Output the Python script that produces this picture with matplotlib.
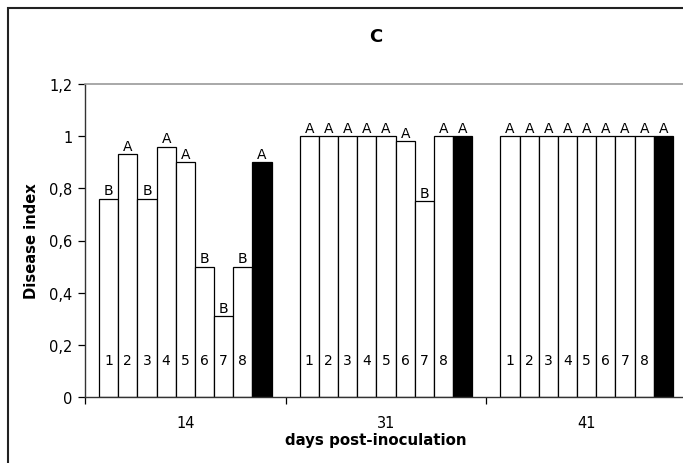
import matplotlib
matplotlib.use('Agg')
import matplotlib.pyplot as plt
from matplotlib.patches import Rectangle
from matplotlib.ticker import FuncFormatter

# jours après inoculation et valeurs de l'indice de maladie (8 traitements + témoin noir)
jours = ['14', '31', '41']
traitements = ['1', '2', '3', '4', '5', '6', '7', '8', '']
indice = [
    [0.76, 0.93, 0.76, 0.96, 0.90, 0.50, 0.31, 0.50, 0.90],
    [1.00, 1.00, 1.00, 1.00, 1.00, 0.98, 0.75, 1.00, 1.00],
    [1.00, 1.00, 1.00, 1.00, 1.00, 1.00, 1.00, 1.00, 1.00],
]
lettres = [
    ['B', 'A', 'B', 'A', 'A', 'B', 'B', 'B', 'A'],
    ['A', 'A', 'A', 'A', 'A', 'A', 'B', 'A', 'A'],
    ['A', 'A', 'A', 'A', 'A', 'A', 'A', 'A', 'A'],
]
couleurs = ['white'] * 8 + ['black']

W, H = 683, 464
fig = plt.figure(figsize=(W / 100, H / 100), dpi=100)
fig.patch.set_facecolor('white')

# cadre extérieur du graphique
fig.add_artist(Rectangle((8 / W, -0.2), 1.5, (H - 9) / H + 0.2,
                         transform=fig.transFigure, fill=False,
                         edgecolor='#222222', linewidth=1.5))

ax = fig.add_axes([85 / W, (H - 398) / H, (687 - 85) / W, (398 - 85) / H])

n = len(traitements)
largeur = 0.0955
debut = (1 - n * largeur) / 2
for g, valeurs in enumerate(indice):
    for i, v in enumerate(valeurs):
        x = g + debut + i * largeur
        ax.bar(x, v, width=largeur, align='edge', color=couleurs[i],
               edgecolor='black', linewidth=0.9)
        ax.text(x + largeur / 2, v + 0.006, lettres[g][i], ha='center',
                va='bottom', fontsize=10)
        if traitements[i]:
            ax.text(x + largeur / 2, 0.14, traitements[i], ha='center',
                    va='center', fontsize=10)

ax.set_xlim(0, 3)
ax.set_ylim(0, 1.2)
ax.set_yticks([0, 0.2, 0.4, 0.6, 0.8, 1.0, 1.2])
ax.yaxis.set_major_formatter(FuncFormatter(
    lambda v, p: ('%g' % round(v, 1)).replace('.', ',')))
ax.set_xticks([0, 1, 2, 3])
ax.set_xticklabels([])
ax.set_xticks([0.5, 1.5, 2.5], minor=True)
ax.set_xticklabels(jours, minor=True)
ax.tick_params(axis='x', which='major', length=5, width=0.9, direction='out')
ax.tick_params(axis='x', which='minor', length=0, pad=13, labelsize=10.5)
ax.tick_params(axis='y', length=5, width=0.9, direction='out', pad=4,
               labelsize=10.5)

for s in ['left', 'bottom']:
    ax.spines[s].set_color('#333333')
    ax.spines[s].set_linewidth(1.0)
ax.spines['top'].set_color('#999999')
ax.spines['top'].set_linewidth(1.2)
ax.spines['right'].set_visible(False)

fig.text(376 / W, 1 - 37 / H, 'C', ha='center', va='center',
         fontsize=13, fontweight='bold')
fig.text(376 / W, 1 - 441 / H, 'days post-inoculation', ha='center',
         va='center', fontsize=10.8, fontweight='bold')
fig.text(31 / W, 1 - 241 / H, 'Disease index', ha='center', va='center',
         rotation=90, fontsize=10.6, fontweight='bold')

fig.savefig('out.png', dpi=100)
